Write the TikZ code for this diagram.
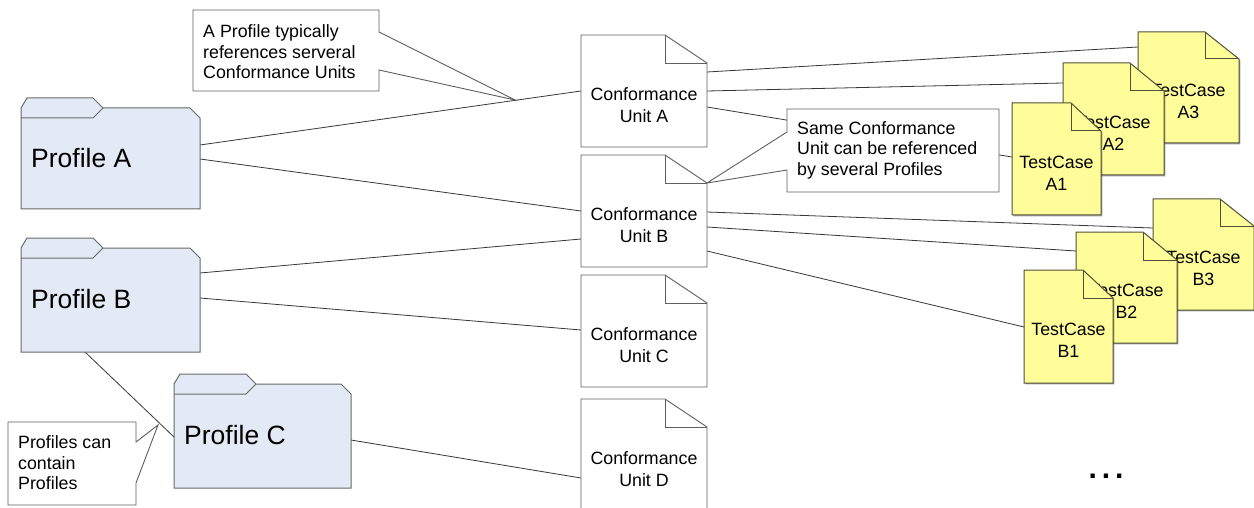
\documentclass[tikz,border=0pt]{standalone}
\usepackage{fontspec}
\setmainfont{Liberation Sans}
\usetikzlibrary{calc,shadows}

\pgfdeclarelayer{paper}
\pgfdeclarelayer{links}
\pgfsetlayers{paper,links,main}

\definecolor{folderfill}{RGB}{228,234,245}
\definecolor{folderline}{RGB}{105,105,105}
\definecolor{testfill}{RGB}{255,253,153}
\definecolor{testline}{RGB}{80,80,55}
\definecolor{docline}{RGB}{95,95,95}
\definecolor{linkcol}{RGB}{55,55,55}

\newcommand\profilefont{\fontsize{26.5}{30}\selectfont}
\newcommand\smallfont{\fontsize{17.8}{22}\selectfont}
\newcommand\notefont{\fontsize{17.8}{20.5}\selectfont}

\tikzset{
  frame/.style={draw=none, inner sep=0pt, outer sep=0pt, anchor=north west},
  folderpath/.style={fill=folderfill, draw=folderline, line width=1pt, line join=miter},
  unitpath/.style={fill=white, draw=docline, line width=0.9pt},
  unitpath body/.style={},
  testpath/.style={fill=testfill, draw=testline, line width=1pt},
  testpath body/.style={drop shadow={shadow xshift=1.3pt, shadow yshift=-1.3pt, fill=black, opacity=0.35}},
  doctext/.style={align=center, inner sep=0pt, font=\smallfont},
  notetext/.style={align=left, inner sep=0pt, anchor=west, font=\notefont},
  callout/.style={fill=white, draw=docline, line width=0.9pt},
  link/.style={draw=linkcol, line width=0.8pt},
}

% folder: name, left, top, width, height, label
\newcommand\folderbox[6]{%
  \node[frame, minimum width=#4pt, minimum height=#5pt] (#1) at (#2,#3) {};
  \filldraw[folderpath] ($(#1.north west)+(0,10)$) -- ++(6,-10) -- ++(66,0) -- ++(10,10)
     -- ($(#1.north east)+(-10,10)$) -- ++(10,10) -- (#1.south east) -- (#1.south west) -- cycle;
  \draw[folderpath, fill=none] ($(#1.north west)+(0,20)$) -- ++(72,0) -- ++(10,-10);
  \node[anchor=base west, inner sep=0pt, font=\profilefont] (#1-t) at ($(#1.north west)+(10,70)$) {#6};
}

% document with folded corner: name, x, y, w, h, fold w, fold h, style, label
\newcommand\docshape[9]{%
  \node[frame, minimum width=#4pt, minimum height=#5pt] (#1) at (#2,#3) {};
  \filldraw[#8, #8 body] (#1.north west) -- ($(#1.north east)+(-#6,0)$) -- ($(#1.north east)+(0,#7)$)
     -- (#1.south east) -- (#1.south west) -- cycle;
  \draw[#8, fill=none] ($(#1.north east)+(-#6,0)$) -- ++(0,#7) -- ++(#6,0);
  \node[doctext] (#1-t) at ({#2+#4/2},{#3+(#5+#7)/2}) {#9};
}

\begin{document}
\begin{tikzpicture}[x=1pt, y=-1pt]
  \useasboundingbox (0,0) rectangle (1254,508);
  \begin{pgfonlayer}{paper}
    \fill[white] (0,0) rectangle (1254,508);
  \end{pgfonlayer}

  % profiles
  \folderbox{pa}{21}{98}{179}{111}{Profile A}
  \folderbox{pb}{21}{238}{179}{114}{Profile B}
  \folderbox{pc}{174}{374}{177}{114}{Profile C}

  % conformance units
  \docshape{cua}{581}{35}{126}{112}{42}{28}{unitpath}{Conformance\\Unit A}
  \docshape{cub}{581}{155}{126}{112}{42}{28}{unitpath}{Conformance\\Unit B}
  \docshape{cuc}{581}{275}{126}{112}{42}{28}{unitpath}{Conformance\\Unit C}
  \docshape{cud}{581}{399}{126}{112}{42}{28}{unitpath}{Conformance\\Unit D}

  % test cases, back to front
  \docshape{tca3}{1138}{32}{101}{111}{34}{27}{testpath}{TestCase\\A3}
  \docshape{tca2}{1063}{63}{101}{112}{34}{28}{testpath}{TestCase\\A2}
  \docshape{tca1}{1012}{103}{89}{112}{30}{28}{testpath}{TestCase\\A1}
  \docshape{tcb3}{1153}{199}{101}{111}{34}{27}{testpath}{TestCase\\B3}
  \docshape{tcb2}{1076}{232}{101}{111}{34}{28}{testpath}{TestCase\\B2}
  \docshape{tcb1}{1024}{270}{89}{113}{30}{28}{testpath}{TestCase\\B1}

  % references between the elements
  \begin{pgfonlayer}{links}
    \draw[link] ($(pa.north east)+(0,47)$) -- ($(cua.north west)+(0,56)$);
    \draw[link] ($(pa.north east)+(0,61)$) -- ($(cub.north west)+(0,56)$);
    \draw[link] ($(pb.north east)+(0,35)$) -- ($(cub.north west)+(0,84)$);
    \draw[link] ($(pb.north east)+(0,60)$) -- ($(cuc.north west)+(0,55)$);
    \draw[link] ($(pb.south west)+(64,0)$) -- ($(pc.north west)+(0,63)$);
    \draw[link] ($(pc.north east)+(0,66)$) -- ($(cud.north west)+(0,79)$);
    \draw[link] ($(cua.north east)+(0,37)$) -- ($(tca3.north west)+(0,15)$);
    \draw[link] ($(cua.north east)+(0,56)$) -- ($(tca2.north west)+(0,20)$);
    \draw[link] ($(cua.north east)+(0,72)$) -- ($(tca1.north west)+(0,54)$);
    \draw[link] ($(cub.north east)+(0,57)$) -- ($(tcb3.north west)+(0,29)$);
    \draw[link] ($(cub.north east)+(0,72)$) -- ($(tcb2.north west)+(0,19)$);
    \draw[link] ($(cub.north east)+(0,96)$) -- ($(tcb1.north west)+(0,57)$);
  \end{pgfonlayer}

  % notes
  \coordinate (tipTop) at (515,100);
  \filldraw[callout] (193,10) -- (379,10) -- (379,32) -- (tipTop) -- (379,70) -- (379,91) -- (193,91) -- cycle;
  \node[notetext] (noteTop) at (203,52) {A Profile typically\\references serveral\\Conformance Units};

  \coordinate (tipMid) at ($(cub.north east)+(0,28)$);
  \filldraw[callout] (787,109) -- (999,109) -- (999,192) -- (787,192) -- (787,170) -- (tipMid) -- (787,132) -- cycle;
  \node[notetext] (noteMid) at (797,150) {Same Conformance\\Unit can be referenced\\by several Profiles};

  \coordinate (tipLow) at (158,425);
  \filldraw[callout] (8,422) -- (136,422) -- (136,442) -- (tipLow) -- (136,483) -- (136,505) -- (8,505) -- cycle;
  \node[notetext] (noteLow) at (18,463) {Profiles can\\contain\\Profiles};

  % more test cases follow
  \node[inner sep=0pt, font=\fontsize{30}{30}\selectfont\bfseries] (more) at (1106,476) {.\kern5pt.\kern5pt.};
\end{tikzpicture}
\end{document}
